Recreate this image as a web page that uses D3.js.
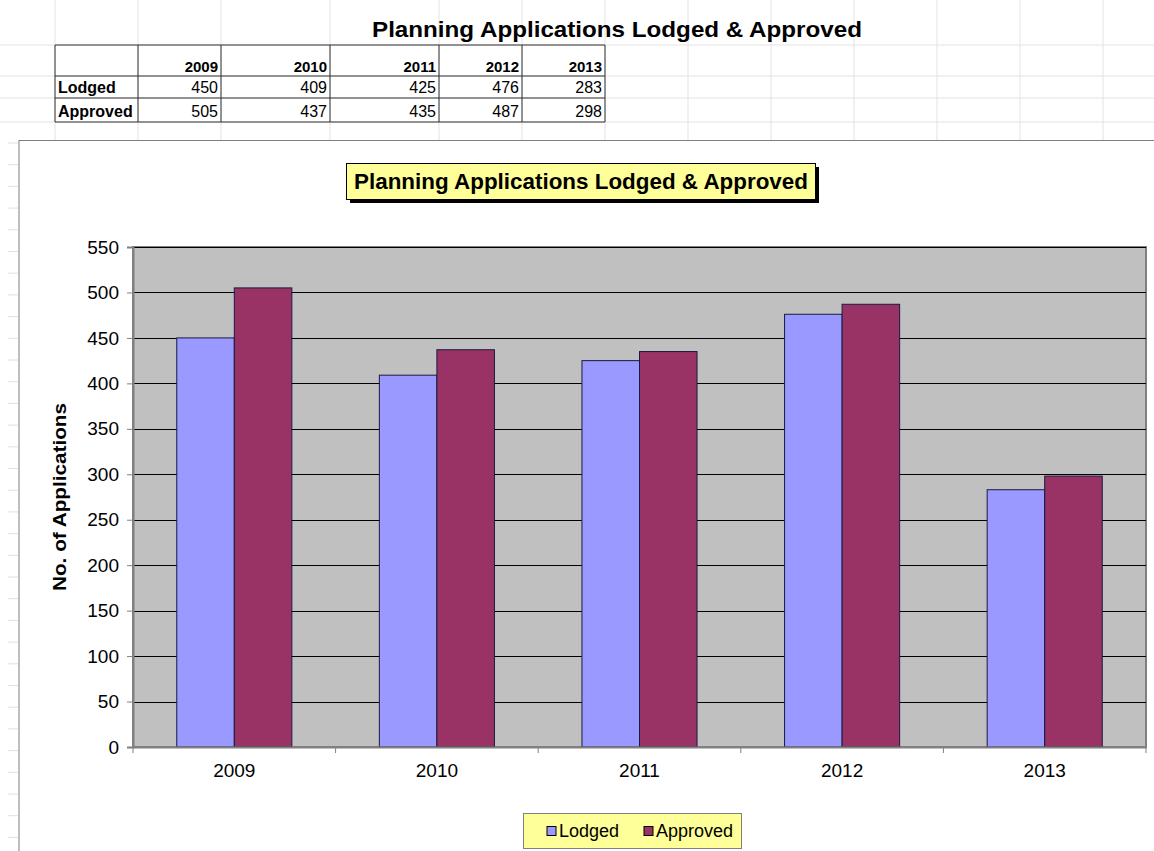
<!DOCTYPE html>
<html lang="en">
<head>
    <meta charset="UTF-8">
    <title>Planning Applications Lodged &amp; Approved</title>
    <script src="https://cdn.jsdelivr.net/npm/d3@7"></script>
    <style>
        body { margin: 0; background: #fff; }
        svg { display: block; font-family: "Liberation Sans", Arial, sans-serif; }
    </style>
</head>
<body>
    <svg width="1154" height="851"></svg>
    <script>
        // data, as typed in the sheet
        const years = ["2009", "2010", "2011", "2012", "2013"];
        const seriesNames = ["Lodged", "Approved"];
        const lodged = [450, 409, 425, 476, 283];
        const approved = [505, 437, 435, 487, 298];
        const yTicks = [0, 50, 100, 150, 200, 250, 300, 350, 400, 450, 500, 550];
        const titleText = "Planning Applications Lodged & Approved";
        const yLabel = "No. of Applications";

        const colors = { Lodged: "#9999ff", Approved: "#993366" };

        const svg = d3.select("svg");

        // ---------- spreadsheet background ----------
        const sheet = svg.append("g").attr("class", "sheet");
        const colLines = [55, 138, 221, 330, 439, 522, 605, 688, 771, 854, 937, 1020, 1103];
        const rowLines = [45, 76, 98, 122];
        sheet.selectAll(".vcol").data(colLines).enter().append("line")
            .attr("x1", d => d).attr("x2", d => d)
            .attr("y1", 0).attr("y2", 140)
            .attr("stroke", "#e3e3e3");
        sheet.selectAll(".hrow").data(rowLines).enter().append("line")
            .attr("x1", 0).attr("x2", 1154)
            .attr("y1", d => d).attr("y2", d => d)
            .attr("stroke", "#e3e3e3");
        // row header tick marks down the left side
        sheet.selectAll(".rh").data(d3.range(0, 40)).enter().append("line")
            .attr("x1", 8).attr("x2", 18)
            .attr("y1", d => 143 + d * 21.7).attr("y2", d => 143 + d * 21.7)
            .attr("stroke", "#e0e0e0");

        // sheet title
        svg.append("text")
            .attr("x", 372).attr("y", 37)
            .attr("font-size", 22).attr("font-weight", "bold")
            .attr("textLength", 490).attr("lengthAdjust", "spacingAndGlyphs")
            .text(titleText);

        // ---------- data table ----------
        const table = svg.append("g").attr("class", "table");
        const cols = [55, 138, 221, 330, 439, 522, 605];
        const rows = [45, 76, 98, 122];
        table.selectAll(".tv").data(cols).enter().append("line")
            .attr("x1", d => d).attr("x2", d => d)
            .attr("y1", rows[0]).attr("y2", rows[3])
            .attr("stroke", "#333");
        table.selectAll(".th").data(rows).enter().append("line")
            .attr("x1", cols[0]).attr("x2", cols[6])
            .attr("y1", d => d).attr("y2", d => d)
            .attr("stroke", "#333");
        table.selectAll(".yr").data(years).enter().append("text")
            .attr("x", (d, i) => cols[i + 2] - 3).attr("y", rows[1] - 4)
            .attr("text-anchor", "end").attr("font-size", 15).attr("font-weight", "bold")
            .text(d => d);
        [lodged, approved].forEach((vals, r) => {
            table.append("text")
                .attr("x", cols[0] + 3).attr("y", rows[r + 2] - 5)
                .attr("font-size", 16).attr("font-weight", "bold")
                .text(seriesNames[r]);
            table.selectAll(".v" + r).data(vals).enter().append("text")
                .attr("x", (d, i) => cols[i + 2] - 3).attr("y", rows[r + 2] - 5)
                .attr("text-anchor", "end").attr("font-size", 16)
                .text(d => d);
        });

        // ---------- chart area ----------
        svg.append("rect")
            .attr("x", 19).attr("y", 140.5).attr("width", 1200).attr("height", 800)
            .attr("fill", "#fff").attr("stroke", "#7f7f7f");

        // chart title box with shadow
        svg.append("rect")
            .attr("x", 350).attr("y", 167).attr("width", 469).attr("height", 36)
            .attr("fill", "#000");
        svg.append("rect")
            .attr("x", 346.5).attr("y", 163.5).attr("width", 469).attr("height", 36)
            .attr("fill", "#ffff99").attr("stroke", "#000");
        svg.append("text")
            .attr("x", 354).attr("y", 189)
            .attr("font-size", 22).attr("font-weight", "bold")
            .attr("textLength", 454).attr("lengthAdjust", "spacingAndGlyphs")
            .text(titleText);

        // plot area
        const plot = { left: 133, right: 1146, top: 247, bottom: 747 };

        const x0 = d3.scaleBand().domain(years).range([plot.left, plot.right]).padding(0);
        const bw = x0.bandwidth();
        const x1 = d3.scaleBand().domain(seriesNames).range([bw * 0.216, bw * 0.784]).padding(0);
        const y = d3.scaleLinear().domain([0, 550]).range([plot.bottom, plot.top]);

        svg.append("rect")
            .attr("x", plot.left).attr("y", plot.top)
            .attr("width", plot.right - plot.left).attr("height", plot.bottom - plot.top)
            .attr("fill", "#c0c0c0").attr("stroke", "#808080").attr("stroke-width", 2);

        // gridlines
        svg.append("g")
            .selectAll("line").data(yTicks.filter(d => d > 0)).enter().append("line")
            .attr("x1", plot.left).attr("x2", plot.right)
            .attr("y1", d => Math.round(y(d)) + 0.5).attr("y2", d => Math.round(y(d)) + 0.5)
            .attr("stroke", "#000").attr("stroke-width", 1);

        // bars
        const tableRows = years.map((yr, i) => ({ year: yr, Lodged: lodged[i], Approved: approved[i] }));
        svg.append("g")
            .selectAll("g").data(tableRows).enter().append("g")
            .attr("transform", d => `translate(${x0(d.year)},0)`)
            .selectAll("rect").data(d => seriesNames.map(k => ({ key: k, value: d[k] }))).enter().append("rect")
            .attr("x", d => x1(d.key))
            .attr("y", d => y(d.value))
            .attr("width", x1.bandwidth())
            .attr("height", d => y(0) - y(d.value))
            .attr("fill", d => colors[d.key])
            .attr("stroke", "#1a1a40").attr("stroke-width", 1);

        // y axis
        const yAxis = svg.append("g")
            .attr("transform", `translate(${plot.left},0)`)
            .call(d3.axisLeft(y).tickValues(yTicks).tickSize(6).tickPadding(8));
        yAxis.select(".domain").attr("stroke", "#808080").attr("stroke-width", 2);
        yAxis.selectAll(".tick line").attr("stroke", "#808080");
        yAxis.selectAll("text").attr("font-size", 19).attr("fill", "#000")
            .attr("font-family", "Liberation Sans, Arial, sans-serif");

        // x axis
        const xAxis = svg.append("g")
            .attr("transform", `translate(0,${plot.bottom})`)
            .call(d3.axisBottom(x0).tickSize(0).tickPadding(17));
        xAxis.select(".domain").attr("stroke", "#808080").attr("stroke-width", 2);
        xAxis.selectAll("text").attr("font-size", 19).attr("fill", "#000")
            .attr("font-family", "Liberation Sans, Arial, sans-serif");
        // tick marks at category boundaries
        svg.append("g")
            .selectAll("line").data(d3.range(years.length + 1)).enter().append("line")
            .attr("x1", i => plot.left + i * bw).attr("x2", i => plot.left + i * bw)
            .attr("y1", plot.bottom).attr("y2", plot.bottom + 6)
            .attr("stroke", "#808080");

        // y axis title
        svg.append("text")
            .attr("transform", "translate(66,497) rotate(-90)")
            .attr("text-anchor", "middle")
            .attr("font-size", 19).attr("font-weight", "bold")
            .attr("textLength", 188).attr("lengthAdjust", "spacingAndGlyphs")
            .text(yLabel);

        // legend
        const legend = svg.append("g").attr("transform", "translate(523,813)");
        legend.append("rect")
            .attr("x", 0.5).attr("y", 0.5).attr("width", 218).attr("height", 35)
            .attr("fill", "#ffff99").attr("stroke", "#808080");
        const legendX = [24, 121];
        seriesNames.forEach((k, i) => {
            legend.append("rect")
                .attr("x", legendX[i]).attr("y", 13.5).attr("width", 9).attr("height", 9)
                .attr("fill", colors[k]).attr("stroke", "#000");
            legend.append("text")
                .attr("x", legendX[i] + 12).attr("y", 24)
                .attr("font-size", 18)
                .text(k);
        });
    </script>
</body>
</html>
